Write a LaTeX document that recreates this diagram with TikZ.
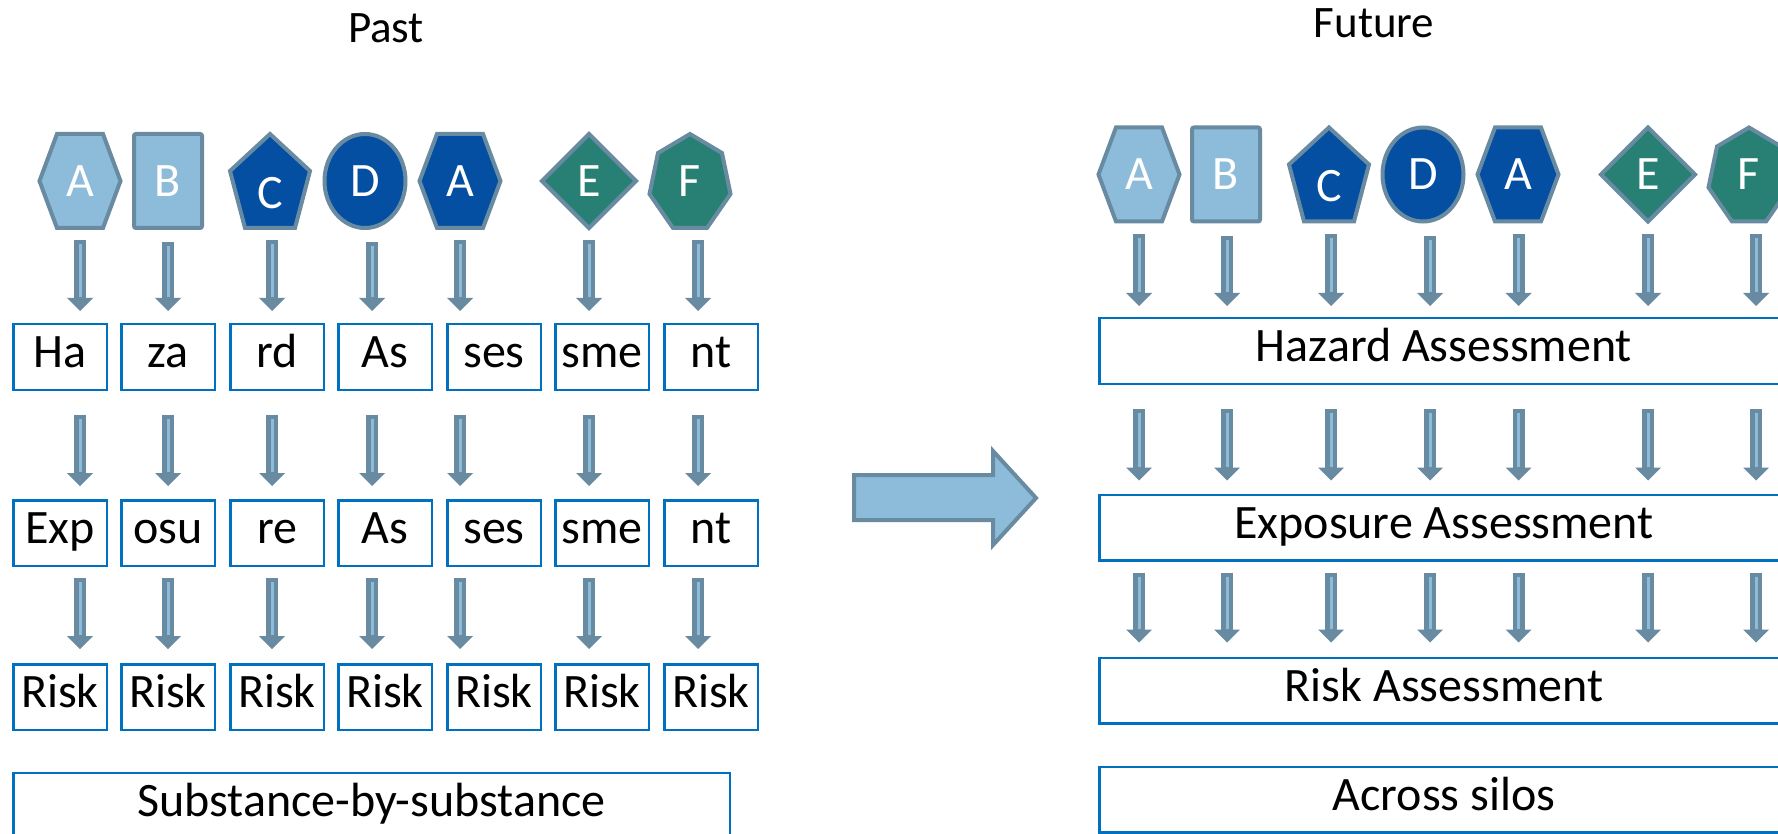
\documentclass[tikz,border=0pt]{standalone}
\usepackage{fontspec}
\setmainfont{Carlito}
\usetikzlibrary{arrows.meta,shapes.geometric,calc}
\definecolor{arrdark}{HTML}{688BA2}
\definecolor{lightfill}{HTML}{8DBCDA}
\definecolor{darkblue}{HTML}{044FA2}
\definecolor{tealc}{HTML}{288074}
\definecolor{boxblue}{HTML}{0070C0}
\newcommand\hexsym[2]{\filldraw[symline, fill=#2, shift={(#1)}] (-23,-47) -- (23,-47) -- (40.5,0) -- (23,47) -- (-23,47) -- (-40.5,0) -- cycle;}
\newcommand\pentsym[2]{\filldraw[symline, fill=#2, shift={(#1)}] (0,-47) -- (40,-10) -- (25,47) -- (-25,47) -- (-40,-10) -- cycle;}
\newcommand\heptsym[2]{\filldraw[symline, fill=#2, shift={(#1)}] (0,-47) -- (32,-28) -- (40.5,13) -- (17,47) -- (-17,47) -- (-40.5,13) -- (-32,-28) -- cycle;}
\newcommand\diasym[2]{\filldraw[symline, fill=#2, shift={(#1)}] (0,-47) -- (47,0) -- (0,47) -- (-47,0) -- cycle;}
\begin{document}
\begin{tikzpicture}[x=1pt,y=-1pt,
  symline/.style={draw=arrdark, line width=4pt, line join=miter},
  symtext/.style={inner sep=0pt, text=white, font=\fontsize{48}{48}\selectfont, text height=31pt, text depth=0pt, minimum width=81pt, minimum height=94pt},
  box/.style={draw=boxblue, line width=2.5pt, inner sep=0pt, font=\fontsize{48}{48}\selectfont, text height=31pt, text depth=10pt},
  sbox/.style={box, minimum width=93.5pt, minimum height=65.5pt},
  wbox/.style={box, minimum width=689.5pt, minimum height=65.5pt},
  arrout/.style={draw=arrdark, line width=12pt, -{Triangle[length=13pt,width=26pt,line width=0pt]}},
  arrin/.style={draw=lightfill, line width=3pt},
  title/.style={anchor=base, font=\fontsize{45}{45}\selectfont}
]
\useasboundingbox (0,0) rectangle (1778,834);
\fill[white] (0,0) rectangle (1778,834);
\clip (0,0) rectangle (1778,834);

% titles
\node[title] (past) at (386,43) {Past};
\node[title] (future) at (1374,38) {Future};

% ---------- left symbols ----------
\hexsym{80,181}{lightfill}
\node[symtext] (LsA) at (80,181) {A};
\node[symtext, symline, fill=lightfill, minimum width=68pt, rounded corners=2pt] (LsB) at (168,181) {B};
\pentsym{270,181}{darkblue}
\node[symtext, text height=55pt] (LsC) at (270,181) {C};
\node[symtext, symline, ellipse, fill=darkblue] (LsD) at (365,181) {D};
\hexsym{460,181}{darkblue}
\node[symtext] (LsA2) at (460,181) {A};
\diasym{589,181}{tealc}
\node[symtext] (LsE) at (589,181) {E};
\heptsym{690,181}{tealc}
\node[symtext] (LsF) at (690,181) {F};

\coordinate (Lc1) at (LsA.south);
\coordinate (Lc2) at (LsB.south);
\coordinate (Lc3) at ([xshift=2pt]LsC.south);
\coordinate (Lc4) at ([xshift=7pt]LsD.south);
\coordinate (Lc5) at (LsA2.south);
\coordinate (Lc6) at (LsE.south);
\coordinate (Lc7) at ([xshift=8pt]LsF.south);

% left boxes
\foreach \x/\i/\a/\b in {60/1/Ha/Exp, 168/2/za/osu, 277/3/rd/re, 385/4/As/As, 494/5/ses/ses, 602/6/sme/sme, 711/7/nt/nt} {
  \node[sbox] (Lh\i) at (\x,357) {\a};
  \node[sbox] (Le\i) at (\x,533) {\b};
  \node[sbox] (Lr\i) at (\x,697) {Risk};
}
\node[box, minimum width=716.5pt, minimum height=65.5pt] (Lsub) at (371.5,805.5) {Substance-by-substance};

% left arrows
\foreach \i in {1,...,7} {
  \draw[arrout, shorten <=12pt, shorten >=12pt] (Lc\i) -- (Lc\i |- Lh\i.north);
  \draw[arrin, shorten <=16pt, shorten >=26pt] (Lc\i) -- (Lc\i |- Lh\i.north);
  \draw[arrout, shorten <=24pt, shorten >=13pt] (Lc\i |- Lh\i.south) -- (Lc\i |- Le\i.north);
  \draw[arrin, shorten <=28pt, shorten >=27pt] (Lc\i |- Lh\i.south) -- (Lc\i |- Le\i.north);
  \draw[arrout, shorten <=11pt, shorten >=14pt] (Lc\i |- Le\i.south) -- (Lc\i |- Lr\i.north);
  \draw[arrin, shorten <=15pt, shorten >=28pt] (Lc\i |- Le\i.south) -- (Lc\i |- Lr\i.north);
}

% big arrow
\filldraw[symline, fill=lightfill] (854,475) -- (993,475) -- (993,451) -- (1036,498) -- (993,545) -- (993,520) -- (854,520) -- cycle;

% ---------- right symbols ----------
\hexsym{1139,174.5}{lightfill}
\node[symtext] (RsA) at (1139,174.5) {A};
\node[symtext, symline, fill=lightfill, minimum width=68pt, rounded corners=2pt] (RsB) at (1226,174.5) {B};
\pentsym{1329,174.5}{darkblue}
\node[symtext, text height=55pt] (RsC) at (1329,174.5) {C};
\node[symtext, symline, ellipse, fill=darkblue] (RsD) at (1423,174.5) {D};
\hexsym{1518,174.5}{darkblue}
\node[symtext] (RsA2) at (1518,174.5) {A};
\diasym{1648,174.5}{tealc}
\node[symtext] (RsE) at (1648,174.5) {E};
\heptsym{1749,174.5}{tealc}
\node[symtext] (RsF) at (1749,174.5) {F};

\coordinate (Rc1) at (RsA.south);
\coordinate (Rc2) at ([xshift=1pt]RsB.south);
\coordinate (Rc3) at ([xshift=2pt]RsC.south);
\coordinate (Rc4) at ([xshift=7pt]RsD.south);
\coordinate (Rc5) at ([xshift=0.5pt]RsA2.south);
\coordinate (Rc6) at (RsE.south);
\coordinate (Rc7) at ([xshift=7pt]RsF.south);

% right boxes
\node[wbox] (Rh) at (1444,351) {Hazard Assessment};
\node[wbox] (Re) at (1444,527.5) {Exposure Assessment};
\node[wbox] (Rr) at (1444,690.5) {Risk Assessment};
\node[wbox] (Ra) at (1444,799.5) {Across silos};

% right arrows
\foreach \i in {1,...,7} {
  \draw[arrout, shorten <=12.5pt, shorten >=11pt] (Rc\i) -- (Rc\i |- Rh.north);
  \draw[arrin, shorten <=16.5pt, shorten >=25pt] (Rc\i) -- (Rc\i |- Rh.north);
  \draw[arrout, shorten <=24pt, shorten >=13pt] (Rc\i |- Rh.south) -- (Rc\i |- Re.north);
  \draw[arrin, shorten <=28pt, shorten >=27pt] (Rc\i |- Rh.south) -- (Rc\i |- Re.north);
  \draw[arrout, shorten <=11pt, shorten >=14pt] (Rc\i |- Re.south) -- (Rc\i |- Rr.north);
  \draw[arrin, shorten <=15pt, shorten >=28pt] (Rc\i |- Re.south) -- (Rc\i |- Rr.north);
}
\end{tikzpicture}
\end{document}
